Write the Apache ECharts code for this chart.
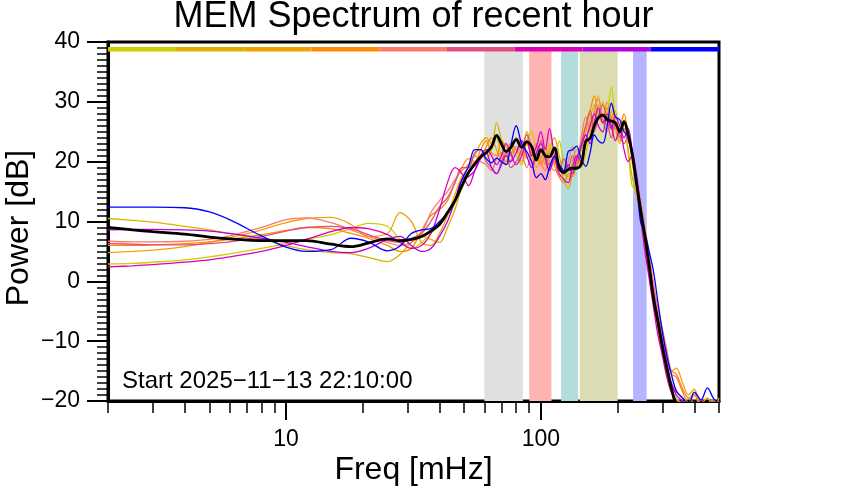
<!DOCTYPE html>
<html><head><meta charset="utf-8">
<script src="https://cdn.jsdelivr.net/npm/echarts@6/dist/echarts.min.js"></script>
<style>html,body{margin:0;padding:0;background:#fff}#c{width:842px;height:500px}</style>
</head><body><div id="c"></div>
<script>
const FREQ = [2, 2.5, 3, 4, 5, 6, 8, 10, 12, 15, 18, 21, 25, 28, 31, 34, 37, 40, 43, 46, 49, 52, 55, 58, 61, 64, 67, 70, 73, 76, 80, 84, 88, 92, 96, 100, 104, 108, 113, 118, 123, 128, 133, 138, 144, 150, 156, 162, 168, 175, 182, 189, 196, 204, 212, 220, 228, 237, 246, 256, 266, 277, 288, 300, 312, 325, 340, 360, 380, 400, 425, 450, 475, 500];

const AVG = [9.0, 8.6, 8.3, 7.9, 7.4, 7.1, 6.8, 6.8, 6.8, 6.2, 5.8, 6.4, 7.1, 6.8, 7.0, 7.5, 8.4, 9.5,
 11.5, 13.5, 16.0, 18.2, 19.6, 20.8, 21.5, 22.5, 24.4, 23.0, 21.7, 22.3, 23.7, 22.4, 23.3, 22.5, 20.3, 22.0, 21.0, 20.8, 22.3, 19.0, 18.2, 18.7, 18.9, 18.9, 19.6, 23.4, 23.9, 26.0, 27.3, 27.8, 27.0, 26.8, 26.5, 25.0, 26.7, 24.5, 21.4, 16.5, 12.0,
 7.5, 2.6, -3.0, -6.8, -11.0, -14.5, -17.8, -20.5, -21, -21, -21, -21, -21, -21, -21];

const S1 = [2.9, 3.0, 3.2, 3.6, 4.1, 4.6, 5.5, 6.3, 7.0, 7.8, 8.8, 9.7, 9.2, 7.0, 5.5, 6.5, 8.0, 9.5,
 11.0, 13.0, 15.5, 18.0, 19.5, 21.0, 20.5, 22.0, 24.0, 21.0, 20.0, 22.5, 21.0, 19.5, 23.5, 25.0, 21.5, 19.5, 21.0, 23.0, 20.0, 23.5, 19.5, 17.0, 19.0, 21.0, 19.0, 21.5, 24.5, 28.0, 31.0, 26.5, 28.0, 32.5, 27.0, 23.5, 25.5, 21.5, 16.0, 15.0, 11.5,
 6.0, 1.5, -3.5, -7.5, -11.5, -15.0, -18.0, -19.5, -20.5, -19.5, -20.5, -21, -20.5, -19.8, -21];
const S2 = [10.5, 10.2, 9.9, 9.2, 8.6, 8.0, 7.0, 6.0, 5.3, 4.8, 4.6, 4.0, 3.3, 4.5, 6.5, 7.5, 7.0, 6.5,
 9.0, 12.0, 16.0, 19.5, 21.0, 23.0, 24.0, 23.0, 26.5, 23.5, 20.0, 21.5, 22.0, 21.0, 25.0, 22.5, 20.0, 22.0, 19.5, 22.0, 24.0, 21.0, 18.0, 17.5, 20.0, 22.0, 19.5, 23.0, 27.0, 29.5, 27.0, 30.0, 26.0, 28.5, 25.5, 23.0, 26.5, 22.0, 17.5, 14.5, 10.5,
 5.5, 1.0, -4.0, -8.0, -12.0, -15.5, -18.5, -19.8, -20.3, -21, -20.2, -21, -21, -20.5, -21];
const S3 = [4.8, 5.0, 5.2, 5.8, 6.5, 7.3, 8.6, 9.8, 10.5, 10.7, 9.5, 7.5, 8.0, 11.5, 10.0, 6.5, 6.0, 8.0,
 11.0, 14.5, 17.5, 19.0, 20.0, 20.5, 22.5, 24.0, 22.0, 20.5, 21.0, 23.0, 22.0, 20.0, 23.0, 21.0, 19.0, 20.5, 22.5, 20.0, 18.5, 19.0, 17.0, 15.5, 18.0, 20.0, 22.0, 25.0, 28.0, 26.0, 29.5, 27.5, 30.0, 27.0, 28.5, 24.0, 27.0, 25.5, 20.0, 16.0, 12.5,
 8.0, 3.5, -1.5, -5.5, -9.0, -12.5, -15.0, -14.5, -17.0, -19.0, -18.0, -20.5, -19.5, -20.8, -20];
const S4 = [6.0, 6.0, 6.1, 6.3, 6.6, 7.0, 7.8, 8.5, 9.0, 8.8, 8.0, 7.2, 6.0, 5.0, 5.5, 8.5, 11.0, 12.0,
 13.5, 16.5, 19.0, 20.5, 20.0, 22.0, 23.5, 21.5, 21.0, 23.5, 22.5, 21.0, 24.0, 23.0, 20.5, 22.0, 21.0, 19.5, 21.0, 18.5, 20.0, 17.5, 16.5, 18.0, 17.5, 19.5, 23.0, 26.0, 28.5, 31.0, 28.0, 26.5, 29.0, 27.5, 25.5, 26.0, 28.0, 24.0, 21.0, 17.5, 13.0,
 8.5, 4.0, -1.0, -5.0, -8.5, -12.0, -15.5, -16.0, -18.5, -20.3, -19.0, -21, -20.3, -21, -19.5];
const S5 = [6.7, 6.6, 6.6, 6.7, 7.0, 7.6, 9.0, 10.3, 10.6, 9.8, 8.6, 7.5, 6.5, 6.0, 6.5, 8.0, 11.5, 13.5,
 15.0, 17.0, 18.5, 19.5, 21.0, 20.0, 19.5, 18.5, 20.5, 21.5, 19.5, 20.0, 22.5, 21.5, 19.0, 21.5, 23.0, 20.0, 18.5, 21.5, 19.5, 17.5, 18.5, 20.0, 22.5, 20.0, 24.0, 27.5, 25.0, 28.5, 30.5, 27.0, 25.0, 27.5, 26.0, 24.0, 25.5, 23.5, 22.0, 18.0, 13.5,
 9.0, 4.5, -0.5, -4.5, -8.0, -11.5, -15.0, -15.5, -18.0, -19.5, -18.8, -20.5, -21, -20, -21];
const S6 = [6.3, 6.2, 6.1, 6.1, 6.3, 6.6, 7.5, 8.4, 9.0, 9.2, 8.8, 7.8, 6.8, 6.5, 7.2, 8.0, 10.0, 12.5,
 14.0, 16.5, 19.0, 19.0, 21.5, 22.0, 20.0, 19.0, 18.0, 20.0, 21.5, 19.0, 20.0, 22.0, 24.5, 22.0, 20.5, 23.5, 21.0, 19.5, 21.0, 18.5, 20.5, 19.0, 21.0, 19.0, 23.0, 26.0, 28.5, 25.0, 27.5, 29.5, 27.0, 24.0, 26.5, 24.5, 23.0, 24.5, 21.5, 16.0, 11.5,
 6.5, 2.0, -2.5, -6.5, -10.5, -14.0, -17.0, -18.5, -19.5, -21, -20.5, -19.8, -21, -21, -20.5];
const S7 = [2.4, 2.6, 2.8, 3.2, 3.6, 4.1, 5.0, 6.0, 7.0, 8.3, 9.0, 8.8, 7.8, 6.5, 5.5, 6.0, 8.0, 12.0,
 16.5, 19.0, 18.0, 16.0, 18.5, 21.0, 22.0, 21.0, 19.5, 21.0, 23.0, 21.5, 19.5, 21.0, 23.5, 21.0, 22.5, 25.0, 22.0, 25.5, 21.0, 18.0, 17.0, 16.5, 19.0, 21.0, 20.0, 23.5, 26.0, 28.0, 26.0, 25.0, 28.0, 26.0, 23.5, 25.5, 22.0, 20.0, 21.0, 17.5, 11.0,
 5.0, 0.5, -4.5, -9.0, -12.5, -16.0, -18.5, -20.0, -21, -20.5, -21, -21, -20.6, -21, -20.2];
const S8 = [8.6, 8.7, 8.7, 8.6, 8.4, 8.0, 7.2, 6.5, 5.8, 5.0, 4.8, 5.5, 7.0, 7.5, 6.0, 5.0, 5.5, 7.5,
 10.0, 13.5, 17.0, 17.5, 18.5, 20.5, 21.5, 19.0, 18.0, 19.5, 21.0, 20.0, 21.5, 23.5, 21.0, 19.0, 21.5, 23.0, 20.5, 18.5, 20.5, 19.5, 18.0, 19.5, 18.0, 20.5, 22.5, 24.5, 23.0, 26.5, 29.0, 26.5, 27.5, 25.5, 27.5, 26.0, 24.0, 25.5, 22.0, 18.0, 12.5,
 7.5, 3.0, -2.0, -6.0, -10.0, -13.5, -17.0, -19.0, -20.0, -21, -20.5, -21, -21, -20.3, -21];
const S9 = [12.4, 12.4, 12.4, 12.3, 11.6, 10.3, 7.6, 5.7, 5.0, 5.3, 7.2, 6.6, 5.1, 5.9, 8.0, 8.6, 8.8, 10.0,
 11.5, 13.5, 17.0, 19.2, 22.0, 22.0, 20.5, 19.8, 20.6, 20.0, 19.5, 22.5, 26.0, 23.0, 21.7, 20.0, 17.3, 18.0, 17.0, 19.0, 20.9, 19.5, 18.5, 21.7, 22.0, 22.6, 20.5, 19.2, 21.5, 24.5, 23.5, 23.1, 26.0, 29.8, 27.5, 27.0, 25.0, 24.2, 21.0, 17.0, 10.0,
 8.0, 5.0, 1.5, -3.5, -8.5, -12.4, -15.5, -18.3, -19.5, -20.5, -18.5, -19.8, -17.8, -19.5, -20.5];

const SEGMENTS = [S1, S2, S3, S4, S5, S6, S7, S8, S9];
const SEGMENT_COLORS = ['#cdcd00', '#dcb000', '#f2a200', '#ff8c00', '#fa7a6c', '#e0507c', '#e000b4', '#b800e4', '#0000ff'];
const BAR_EDGES = [2, 3.69, 6.81, 12.6, 23.2, 42.8, 79.0, 145.8, 269.1, 500];
const BAR_LEVEL = 38.8;
const BANDS = [[60, 85], [90, 110], [120, 140], [142, 200], [230, 260]];
const BAND_COLORS = ['#e0e0e0', '#ffb3b3', '#b3dcdc', '#dcdcb4', '#b4b4ff'];
const BAND_TOP = 38.5;
const X_MINOR_TICKS = [2, 3, 4, 5, 6, 7, 8, 9, 20, 30, 40, 50, 60, 70, 80, 90, 200, 300, 400, 500];
const X_MAJOR_TICKS = [10, 100];
const Y_MIN = -20, Y_MAX = 40, Y_STEP = 10;
const TITLE = 'MEM Spectrum of recent hour';
const X_NAME = 'Freq [mHz]';
const Y_NAME = 'Power [dB]';
const START_TEXT = 'Start 2025\u221211\u221213 22:10:00';

const FONT = "'Liberation Sans', Arial, Helvetica, sans-serif";
const chart = echarts.init(document.getElementById('c'), null, {renderer: 'canvas'});

const series = [];
series.push({
  type: 'line', data: [], xAxisIndex: 0, yAxisIndex: 0, z: 1, silent: true,
  markArea: {
    silent: true,
    data: BANDS.map((b, i) => [
      {xAxis: b[0], yAxis: Y_MIN, itemStyle: {color: BAND_COLORS[i], opacity: 1}},
      {xAxis: b[1], yAxis: BAND_TOP}
    ])
  }
});
SEGMENTS.forEach((s, i) => {
  series.push({
    type: 'line', z: 3, showSymbol: false, smooth: 0.35, silent: true,
    data: FREQ.map((f, k) => [f, s[k]]),
    lineStyle: {color: SEGMENT_COLORS[i], width: 1.3},
    itemStyle: {color: SEGMENT_COLORS[i]}
  });
});
series.push({
  type: 'line', z: 4, showSymbol: false, smooth: 0.35, silent: true,
  data: FREQ.map((f, k) => [f, AVG[k]]),
  lineStyle: {color: '#000', width: 2.8}
});
for (let i = 0; i < SEGMENT_COLORS.length; i++) {
  series.push({
    type: 'line', z: 5, showSymbol: false, silent: true,
    data: [[BAR_EDGES[i], BAR_LEVEL], [BAR_EDGES[i + 1], BAR_LEVEL]],
    lineStyle: {color: SEGMENT_COLORS[i], width: 4.5, cap: 'butt'}
  });
}

const GL = 108, GT = 42, GR = 719, GB = 401;
chart.setOption({
  animation: false,
  backgroundColor: '#fff',
  textStyle: {fontFamily: FONT},
  grid: {left: GL, top: GT, width: GR - GL, height: GB - GT, show: true, borderColor: '#000', borderWidth: 3, backgroundColor: 'transparent'},
  xAxis: [{
    type: 'log', logBase: 10, min: 2, max: 500, position: 'bottom',
    axisLine: {show: true, onZero: false, lineStyle: {color: '#000', width: 3}},
    axisTick: {show: true, customValues: X_MINOR_TICKS, length: 12, lineStyle: {color: '#000', width: 1.5}},
    axisLabel: {show: true, customValues: X_MAJOR_TICKS, margin: 27, fontSize: 23, color: '#000', fontFamily: FONT},
    splitLine: {show: false}, minorTick: {show: false}
  }, {
    type: 'log', logBase: 10, min: 2, max: 500, position: 'bottom', gridIndex: 0,
    axisLine: {show: false, onZero: false},
    axisTick: {show: true, customValues: X_MAJOR_TICKS, length: 19, lineStyle: {color: '#000', width: 2}},
    axisLabel: {show: false}, splitLine: {show: false}
  }],
  yAxis: {
    type: 'value', min: Y_MIN, max: Y_MAX, interval: Y_STEP,
    axisLine: {show: true, onZero: false, lineStyle: {color: '#000', width: 3}},
    axisTick: {show: true, length: 21, lineStyle: {color: '#000', width: 2}},
    minorTick: {show: true, splitNumber: 10, length: 11, lineStyle: {color: '#000', width: 1.5}},
    axisLabel: {margin: 28, fontSize: 23, color: '#000', fontFamily: FONT,
      formatter: v => String(v).replace('-', '\u2212')},
    splitLine: {show: false}
  },
  graphic: [
    {type: 'text', x: (GL + GR) / 2, y: 17, z: 10, style: {text: TITLE, fontSize: 36, fontFamily: FONT, fill: '#000', align: 'center', verticalAlign: 'middle'}},
    {type: 'text', x: (GL + GR) / 2, y: 470, z: 10, style: {text: X_NAME, fontSize: 32, fontFamily: FONT, fill: '#000', align: 'center', verticalAlign: 'middle'}},
    {type: 'text', x: 19, y: 228, rotation: Math.PI / 2, z: 10, style: {text: Y_NAME, fontSize: 32, fontFamily: FONT, fill: '#000', align: 'center', verticalAlign: 'middle'}},
    {type: 'text', x: 122, y: 381, z: 10, style: {text: START_TEXT, fontSize: 24, fontFamily: FONT, fill: '#000', align: 'left', verticalAlign: 'middle'}}
  ],
  series: series
});
</script></body></html>
